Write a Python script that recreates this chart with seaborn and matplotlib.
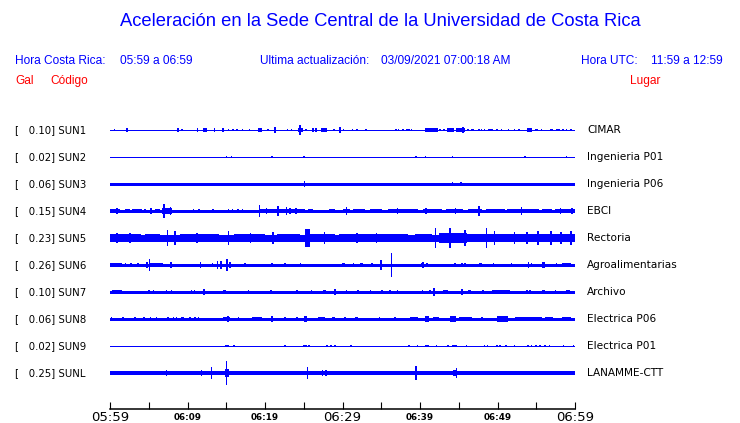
import matplotlib
matplotlib.use("Agg")
import matplotlib.pyplot as plt
import seaborn as sns
import pandas as pd

# station codes, peak acceleration (Gal) and places
codes = ["SUN1", "SUN2", "SUN3", "SUN4", "SUN5", "SUN6", "SUN7", "SUN8", "SUN9", "SUNL"]
gals = ["0.10", "0.02", "0.06", "0.15", "0.23", "0.26", "0.10", "0.06", "0.02", "0.25"]
places = ["CIMAR", "Ingenieria P01", "Ingenieria P06", "EBCI", "Rectoria",
          "Agroalimentarias", "Archivo", "Electrica P06", "Electrica P01", "LANAMME-CTT"]

# background noise half-amplitude of each trace (px)
base_amp = [0.5, 0.5, 1.4, 1.5, 3.3, 1.4, 1.4, 1.5, 0.5, 1.8]

# envelope bursts per trace: (start minute, end minute, half-amplitude px)
bursts = {
    "SUN1": [(0.56, 0.56, 1), (2.06, 2.28, 1.6), (8.8, 8.8, 1.6), (9.3, 9.3, 1.3), (11.3, 11.3, 1.6),
             (12.0, 12.5, 1.6), (13.5, 13.5, 1.6), (14.6, 14.6, 1.6), (15.3, 15.3, 1), (15.8, 16.0, 1.3),
             (16.4, 16.4, 1), (17.1, 17.1, 1.3), (18.0, 18.0, 1.3), (19.1, 19.6, 1.6), (20.4, 20.4, 1.3),
             (21.2, 21.4, 2.7), (22.9, 22.9, 1), (23.4, 23.4, 0.8), (24.2, 24.9, 1.8), (24.4, 24.7, 4.7),
             (25.3, 25.3, 1), (26.2, 26.2, 1.6), (26.6, 26.6, 1.6), (27.2, 28.0, 1.6), (28.9, 28.9, 1.3),
             (29.6, 29.8, 2.7), (30.1, 30.1, 0.8), (31.3, 31.3, 0.8), (31.8, 32.0, 1.3), (33.0, 33.0, 1),
             (36.9, 36.9, 1.3), (37.2, 37.2, 1.3), (37.8, 37.8, 0.8), (38.3, 38.3, 1.3), (38.6, 38.6, 1),
             (38.9, 38.9, 1.3), (40.6, 42.3, 1.6), (41.2, 41.4, 2.3), (42.6, 42.6, 0.8), (43.1, 43.1, 1.3),
             (43.5, 44.4, 1.6), (44.7, 45.8, 2), (45.5, 45.6, 2.7), (46.2, 46.2, 1), (46.6, 47.0, 1.3),
             (47.6, 47.6, 1), (47.9, 48.0, 1.3), (48.3, 48.3, 0.8), (48.8, 49.1, 1.3), (49.3, 49.3, 1.3),
             (49.9, 49.9, 0.8), (50.5, 50.5, 1), (51.4, 51.4, 1), (52.2, 52.2, 0.8), (52.8, 52.8, 1),
             (53.8, 54.5, 1.6), (54.3, 54.4, 2.3), (54.8, 55.2, 1.3), (55.7, 55.7, 1.3), (56.8, 57.1, 1.3),
             (57.7, 57.7, 1), (57.9, 57.9, 1), (58.3, 58.6, 1.3), (58.9, 58.9, 0.8), (59.5, 59.5, 1.3)],
    "SUN2": [(15.05, 15.05, 0.8), (15.7, 15.7, 0.8), (20.9, 20.9, 1), (24.9, 25.2, 1.4), (39.5, 39.5, 0.8),
             (40.7, 40.7, 1.3), (44.1, 44.3, 1.4), (53.5, 53.6, 1.3), (58.9, 58.9, 1)],
    "SUN3": [(25.1, 25.1, 3), (44.1, 44.3, 2.2), (45.3, 45.3, 2)],
    "SUN4": [(0, 1.3, 2.0), (0.9, 0.9, 3.3), (1.9, 2.6, 2), (2.8, 4.1, 1.8), (4.5, 4.5, 2), (5.2, 5.4, 2.7),
             (5.8, 6.5, 1.8), (6.75, 8.0, 2.7), (7.0, 7.0, 7.3), (7.8, 7.8, 4.3), (10.8, 10.8, 1.7),
             (11.5, 11.5, 1.7), (13.3, 13.3, 1.7), (15.3, 15.3, 1.7), (15.8, 15.8, 2), (16.5, 16.5, 1.7),
             (17.1, 17.1, 2), (19.3, 19.3, 6), (19.4, 25.2, 2.0), (20.2, 20.2, 3), (21.7, 21.7, 4.7),
             (22.8, 22.8, 4), (23.2, 23.2, 3), (24.0, 24.0, 2.7), (25.5, 26.2, 2.0), (28.2, 29.0, 1.8),
             (30.1, 31.0, 2.2), (30.5, 30.5, 3.7), (31.4, 32.9, 2.0), (33.5, 35.1, 1.8), (35.9, 39.8, 2.0),
             (37.1, 37.1, 2.7), (40.4, 42.8, 2.0), (40.8, 40.8, 3), (43.4, 45.6, 2.0), (44.6, 44.6, 2.7),
             (46.2, 48.0, 1.8), (47.6, 47.6, 5), (48.5, 51.0, 2.0), (51.2, 55.3, 2.2), (53.1, 53.1, 3.7),
             (55.7, 57.0, 2.0), (57.4, 60, 2.2), (58.1, 58.1, 3.3), (59.6, 59.6, 3)],
    "SUN5": [(0, 4, 3.8), (0.9, 0.9, 5.3), (2.6, 2.6, 4.7), (4.5, 6.5, 3.7), (7.3, 7.5, 7.8), (8.4, 8.4, 7),
             (9, 14, 3.7), (11.2, 11.2, 4.7), (15.3, 15.3, 7.3), (16, 20, 3.7), (18.1, 18.1, 4.7),
             (20.9, 21.1, 6.3), (21.5, 24.5, 4.2), (25.2, 25.8, 9.3), (25.8, 29, 4.3), (27.7, 27.7, 6),
             (29.5, 38.5, 3.7), (31.9, 31.9, 5), (34.4, 34.4, 5), (39.4, 41.5, 4.3), (42.0, 42.0, 9.7),
             (42.5, 46, 4.7), (43.9, 43.9, 10), (45.8, 45.8, 7.8), (46, 51, 4.3), (48.6, 48.6, 10),
             (49.6, 49.6, 6.7), (51, 60, 4.3), (52.2, 52.2, 6), (53.8, 53.8, 5.7), (55.2, 55.2, 7.3),
             (56.9, 56.9, 7), (58.2, 58.2, 6), (59.5, 59.5, 7.3)],
    "SUN6": [(0, 1.5, 1.7), (2.0, 2.0, 2), (2.7, 2.7, 2), (3.6, 3.6, 2), (4.6, 4.9, 3), (5.1, 5.1, 6.3),
             (5.2, 6.9, 1.8), (7.9, 7.9, 2.7), (11.6, 11.8, 3), (13.2, 13.2, 1.7), (13.9, 13.9, 4),
             (14.3, 14.3, 4), (15.1, 15.1, 6), (15.5, 15.5, 3.3), (17.4, 17.4, 1.7), (20.9, 20.9, 2.3),
             (22.6, 22.6, 1.7), (24.6, 24.6, 2), (29.9, 30.3, 1.7), (31.4, 31.4, 1.7), (32.3, 32.7, 2.3),
             (33.8, 33.8, 2), (35.0, 35.0, 5), (36.3, 36.3, 11.7), (40.2, 40.2, 1.7), (40.4, 40.4, 3.3),
             (40.9, 40.9, 2), (44.5, 44.5, 2), (45.4, 45.4, 2), (45.8, 45.8, 1.7), (47.6, 48.0, 2),
             (49.5, 49.5, 1.7), (51.8, 51.8, 2), (54.0, 54.0, 3.3), (54.4, 54.4, 2), (55.7, 56.1, 2.7),
             (57.6, 57.6, 1.7), (58.3, 59.5, 2), (59.4, 59.4, 2.3)],
    "SUN7": [(0.3, 1.5, 1.7), (5.0, 5.0, 1.7), (5.6, 5.6, 1.7), (7.3, 7.3, 2), (7.95, 7.95, 1.7),
             (10.5, 10.5, 2.3), (10.9, 10.9, 1.7), (12.1, 12.1, 3.3), (14.6, 15.0, 1.7), (17.9, 17.9, 1.7),
             (20.7, 20.9, 2), (24.1, 24.1, 1.7), (26.0, 26.0, 1.7), (27.5, 27.9, 2), (29.0, 29.0, 3.3),
             (30.5, 30.5, 1.7), (32.0, 32.0, 1.7), (33.5, 33.7, 2), (35.1, 35.1, 1.7), (36.1, 36.1, 1.7),
             (37.0, 37.2, 2), (40.2, 40.4, 2.3), (41.3, 41.3, 1.7), (41.8, 41.8, 4), (43.0, 43.6, 2),
             (45.3, 45.5, 2.7), (46.2, 46.6, 2), (48.0, 48.2, 2), (49.3, 51.6, 2), (53.8, 53.8, 1.7),
             (54.2, 54.2, 1.7), (55.7, 56.1, 1.7), (57.4, 57.6, 2.3), (58.9, 59.3, 1.7)],
    "SUN8": [(0.2, 0.2, 1.7), (1.7, 1.7, 1.7), (3.2, 3.2, 1.7), (4.4, 4.4, 1.7), (5.2, 5.2, 1.7),
             (6.0, 6.0, 1.7), (7.5, 7.5, 1.7), (8.2, 8.2, 1.7), (8.6, 8.6, 1.7), (9.2, 9.6, 1.7),
             (10.3, 10.3, 1.7), (11.0, 11.0, 1.7), (11.4, 11.4, 1.7), (14.6, 15.5, 2.3), (15.2, 15.2, 3),
             (16.6, 16.6, 1.7), (18.3, 19.6, 1.7), (20.9, 20.9, 2.7), (22.6, 22.6, 2), (24.1, 24.1, 1.7),
             (25.0, 25.4, 3), (26.9, 27.7, 2), (28.6, 29.0, 2), (30.3, 30.3, 1.7), (31.6, 32.0, 1.7),
             (34.8, 34.8, 1.7), (36.8, 36.8, 1.7), (38.7, 39.8, 2.3), (40.6, 41.1, 3.3), (41.7, 42.4, 2),
             (43.9, 44.7, 3), (45.0, 46.7, 2), (48.0, 48.0, 1.7), (49.9, 51.2, 2.7), (51.2, 51.2, 3.3),
             (52.2, 55.7, 2), (56.1, 57.2, 2), (58.3, 59.5, 2)],
    "SUN9": [(14.8, 15.4, 1.3), (16.0, 16.0, 1), (22.6, 22.6, 0.7), (24.9, 25.4, 1.3), (25.7, 25.7, 1),
             (28.0, 28.0, 1), (28.5, 28.5, 1), (29.0, 29.0, 1), (31.1, 31.1, 1), (38.6, 38.6, 1),
             (39.6, 39.8, 1.3), (40.6, 41.2, 1.3), (42.1, 42.1, 0.7), (43.6, 43.6, 1), (44.1, 44.8, 1.3),
             (46.0, 46.0, 0.7), (48.3, 48.3, 0.7), (48.7, 48.7, 0.7), (49.9, 49.9, 0.7), (50.3, 50.3, 1),
             (51.0, 51.2, 1), (52.2, 52.2, 1), (53.9, 53.9, 1), (54.4, 54.4, 1), (55.0, 55.0, 1),
             (55.5, 55.5, 1), (56.1, 56.1, 1), (56.7, 56.7, 1), (58.5, 58.5, 1), (59.8, 59.8, 1)],
    "SUNL": [(0.3, 0.3, 2.3), (1.0, 4.5, 2.1), (3.2, 3.2, 2.3), (4.4, 4.4, 2.3), (5.5, 7.0, 2.1),
             (7.3, 7.3, 3), (9.8, 9.8, 2.3), (11.8, 11.8, 3.3), (13.1, 13.1, 6), (14.8, 15.3, 4),
             (15.05, 15.05, 11.7), (17.8, 19.4, 2.3), (25.5, 25.5, 6.3), (27.4, 27.4, 2.7), (27.9, 27.9, 3.3),
             (28.6, 28.6, 2.3), (38.0, 38.0, 2.3), (39.5, 39.5, 6.8), (43.4, 43.4, 2.3), (44.3, 44.8, 2.7),
             (44.7, 44.7, 4.7), (52.1, 52.1, 2.3), (53.2, 53.2, 2.3), (59.1, 59.1, 2.3)],
}

# time axis: minutes after 05:59
tick_minutes = list(range(0, 61, 5))
tick_labels = {0: "05:59", 10: "06:09", 20: "06:19", 30: "06:29", 40: "06:39", 50: "06:49", 60: "06:59"}
big_labels = ["05:59", "06:29", "06:59"]

BLUE = "#0000ff"
RED = "#ff0000"
ROW_PX = 27.0  # pixel spacing between traces

sns.set_style("white")
plt.rcParams["font.family"] = ["DejaVu Sans"]
plt.rcParams["lines.solid_capstyle"] = "butt"
plt.rcParams["text.color"] = "black"
plt.rcParams["xtick.color"] = "black"
plt.rcParams["xtick.labelcolor"] = "black"

W, H = 740, 423
fig = plt.figure(figsize=(W / 100, H / 100), dpi=100)
ax = fig.add_axes([110 / W, (H - 409) / H, 465 / W, 294 / H])

# background trace lines through seaborn
base_df = pd.DataFrame({
    "minute": [0, 60] * len(codes),
    "row": [i for i in range(len(codes)) for _ in range(2)],
    "station": [c for c in codes for _ in range(2)],
})
sizes = {c: 2 * a * 0.72 for c, a in zip(codes, base_amp)}
sns.lineplot(data=base_df, x="minute", y="row", hue="station", size="station",
             sizes=sizes, palette=[BLUE] * len(codes), legend=False, ax=ax,
             antialiased=False)

# bursts as envelope blocks
for i, c in enumerate(codes):
    for s, e, a in bursts[c]:
        w = max(e - s, 0.2)
        ax.bar((s + e) / 2, 2 * a / ROW_PX, width=w, bottom=i - a / ROW_PX,
               color=BLUE, linewidth=0, antialiased=False)

ax.set_xlim(0, 60)
ax.set_ylim((409 - 130) / ROW_PX, (115 - 130) / ROW_PX)
for side in ["top", "left", "right"]:
    ax.spines[side].set_visible(False)
ax.spines["bottom"].set_color("black")
ax.spines["bottom"].set_linewidth(1.1)
ax.set_yticks([])
ax.set_xticks(tick_minutes)
ax.set_xticklabels([tick_labels.get(m, "") for m in tick_minutes])
ax.tick_params(axis="x", bottom=True, direction="in", length=5.3, width=0.8,
               color="black", labelcolor="black", pad=5.8)
ax.set_xlabel("")
ax.set_ylabel("")
for lab in ax.get_xticklabels():
    lab.set_va("center")
    if lab.get_text() in big_labels:
        lab.set_fontsize(9.5)
    else:
        lab.set_fontsize(6.3)
        lab.set_fontweight("bold")

# station labels
for i, c in enumerate(codes):
    y = 1 - (130 + ROW_PX * i) / H
    fig.text(15 / W, y, f"[   {gals[i]}] {c}", fontsize=7.3, va="center", ha="left", color="black")
    fig.text(587 / W, y, places[i], fontsize=7.6, va="center", ha="left", color="black")

# header
hf = ["Liberation Sans", "DejaVu Sans"]
fig.text(380 / W, 1 - 22 / H, "Aceleración en la Sede Central de la Universidad de Costa Rica",
         family=hf, fontsize=13.2, color=BLUE, ha="center", va="center")
y1 = 1 - 61 / H
hs = 8.6
fig.text(15 / W, y1, "Hora Costa Rica:", family=hf, fontsize=hs, color=BLUE, va="center")
fig.text(120 / W, y1, "05:59 a 06:59", family=hf, fontsize=hs, color=BLUE, va="center")
fig.text(260 / W, y1, "Ultima actualización:", family=hf, fontsize=hs, color=BLUE, va="center")
fig.text(381 / W, y1, "03/09/2021 07:00:18 AM", family=hf, fontsize=hs, color=BLUE, va="center")
fig.text(581 / W, y1, "Hora UTC:", family=hf, fontsize=hs, color=BLUE, va="center")
fig.text(723 / W, y1, "11:59 a 12:59", family=hf, fontsize=hs, color=BLUE, va="center", ha="right")
y2 = 1 - 81 / H
fig.text(15 / W, y2, "Gal", family=hf, fontsize=hs, color=RED, va="center")
fig.text(50 / W, y2, "Código", family=hf, fontsize=hs, color=RED, va="center")
fig.text(630 / W, y2, "Lugar", family=hf, fontsize=hs, color=RED, va="center")

fig.savefig("out.png", dpi=100)
